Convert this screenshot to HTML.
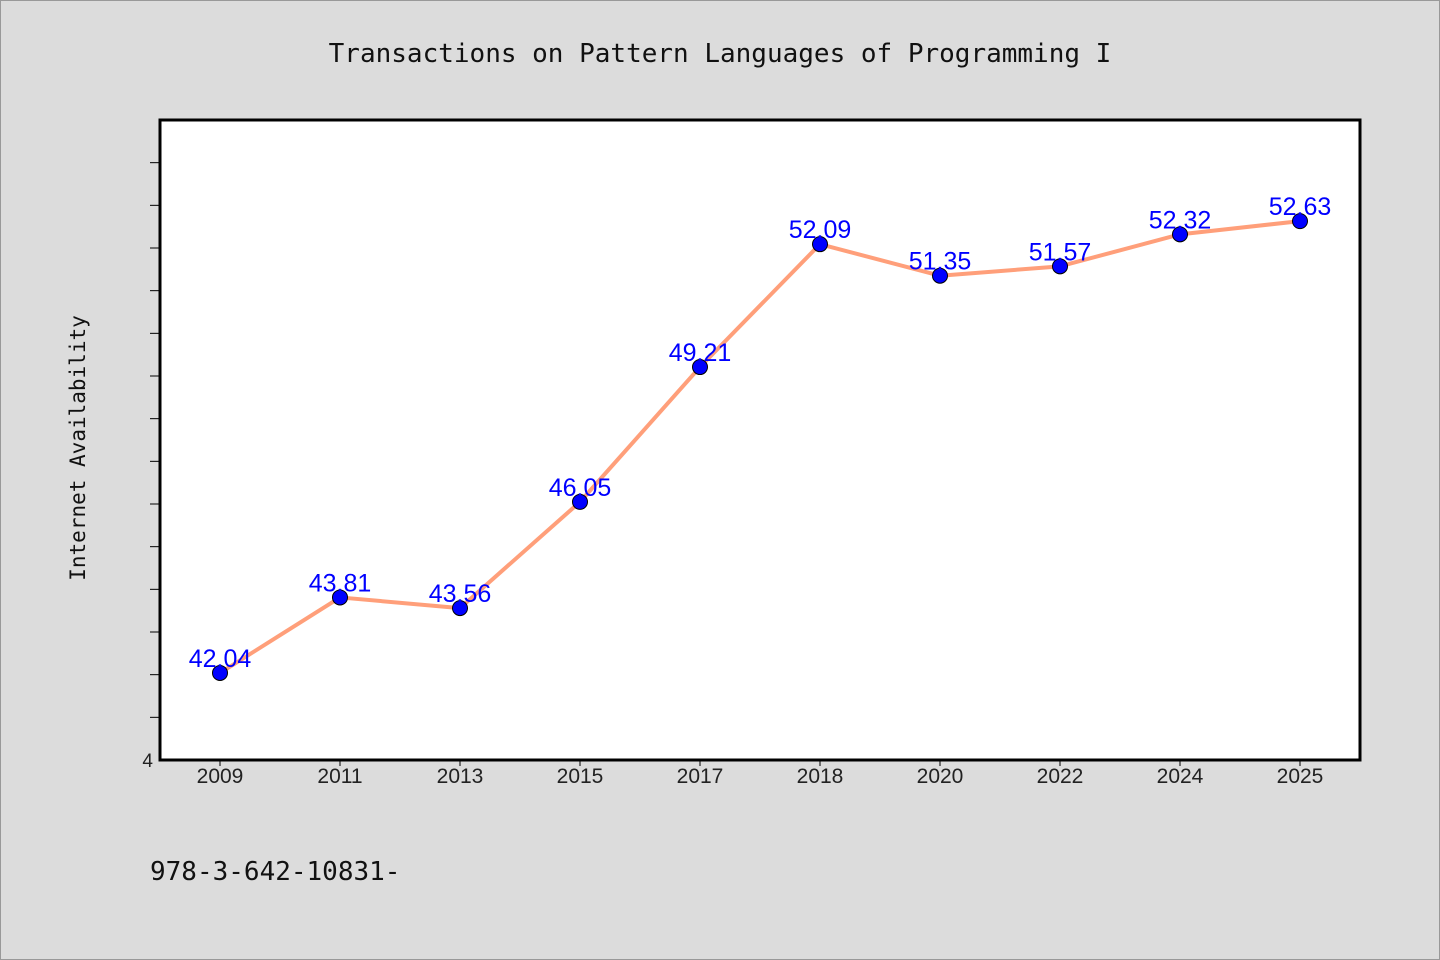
<!DOCTYPE html>
<html><head><meta charset="utf-8"><style>
body{margin:0;background:#dcdcdc;}
svg{display:block;}
</style></head><body>
<svg width="1440" height="960" xmlns="http://www.w3.org/2000/svg">
<rect x="0.5" y="0.5" width="1439" height="959" fill="#dcdcdc" stroke="#999"/>
<text x="720" y="62" text-anchor="middle" font-family="DejaVu Sans Mono, Liberation Mono, monospace" font-size="26" fill="#111">Transactions on Pattern Languages of Programming I</text>
<rect x="160" y="120" width="1200" height="640" fill="#fff" stroke="#000" stroke-width="3"/>
<text transform="translate(85,448) rotate(-90)" text-anchor="middle" font-family="DejaVu Sans Mono, Liberation Mono, monospace" font-size="21" fill="#111">Internet Availability</text>
<text x="150" y="880" font-family="DejaVu Sans Mono, Liberation Mono, monospace" font-size="26" fill="#111">978-3-642-10831-</text>
<g id="axes"></g>
<g id="marks"></g>
</svg>
<script>
const categories=["2009","2011","2013","2015","2017","2018","2020","2022","2024","2025"];
const values=[42.04,43.81,43.56,46.05,49.21,52.09,51.35,51.57,52.32,52.63];
const labels=["42.04","43.81","43.56","46.05","49.21","52.09","51.35","51.57","52.32","52.63"];
const yMin=40, yMax=55;
const NS="http://www.w3.org/2000/svg";
const L=160,R=1360,T=120,B=760;
const x=i=>L+60+i*120;
const y=v=>B-(v-yMin)/(yMax-yMin)*(B-T);
function mk(t,a,p){const e=document.createElementNS(NS,t);for(const k in a)e.setAttribute(k,a[k]);p.appendChild(e);return e;}
const ax=document.getElementById('axes'),mg=document.getElementById('marks');
for(let v=yMin+1;v<yMax;v++){
  const t=mk('line',{x1:150,x2:160,y1:y(v),y2:y(v),stroke:'#000','stroke-width':1},ax);
  
  
}
const yl=mk('text',{x:153,y:767,'text-anchor':'end','font-family':'Liberation Sans, sans-serif','font-size':19,fill:'#222'},ax);
yl.textContent='4';


categories.forEach((c,i)=>{
  const t=mk('line',{x1:x(i),x2:x(i),y1:760,y2:766,stroke:'#000'},ax);
  
  
  const l=mk('text',{x:x(i),y:783,'text-anchor':'middle','font-family':'Liberation Sans, sans-serif','font-size':21,fill:'#222'},ax);
  l.textContent=c;
  
  
});
const line=mk('polyline',{points:values.map((v,i)=>x(i)+','+y(v)).join(' '),fill:'none',stroke:'#ff9f7a','stroke-width':4,'stroke-linejoin':'round'},mg);


values.forEach((v,i)=>{
  const c=mk('circle',{cx:x(i),cy:y(v),r:7.5,fill:'#0000ff',stroke:'#000','stroke-width':1},mg);
  
  
  const t=mk('text',{x:x(i),y:y(v)-6,'text-anchor':'middle','font-family':'Liberation Sans, sans-serif','font-size':25,fill:'#0000ff'},mg);
  t.textContent=labels[i];
  
  
});
</script>
</body></html>
